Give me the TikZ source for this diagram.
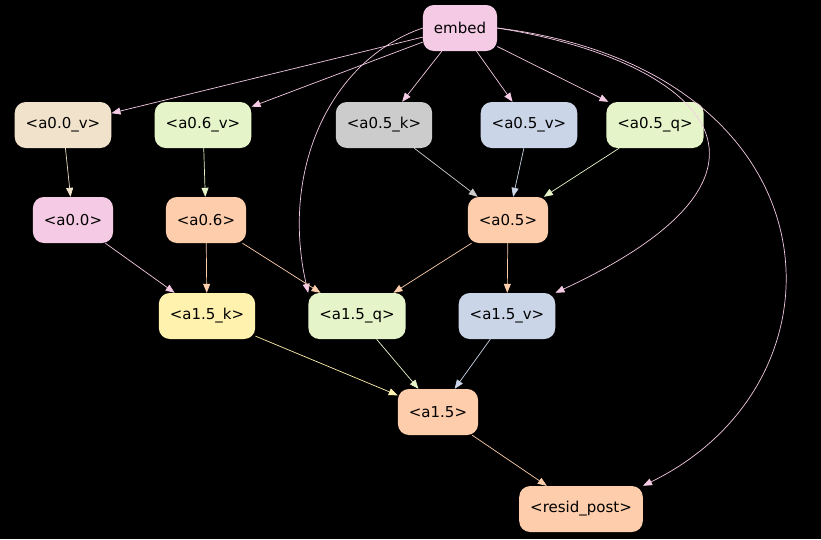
\documentclass[tikz,border=0pt]{standalone}
\usepackage{fontspec}
\setmainfont{DejaVu Sans}
\usetikzlibrary{arrows.meta}
\definecolor{cpink}{HTML}{F4CAE4}
\definecolor{cbeige}{HTML}{F1E2CC}
\definecolor{cgreen}{HTML}{E6F5C9}
\definecolor{cgray}{HTML}{CCCCCC}
\definecolor{cblue}{HTML}{CBD5E8}
\definecolor{corange}{HTML}{FDCDAC}
\definecolor{cyellow}{HTML}{FFF2AE}
\tikzset{
  box/.style={rounded corners=11pt, minimum height=46pt, inner xsep=11pt,
    font=\fontsize{15pt}{17pt}\selectfont, text=black},
  edge/.style={-{Triangle[length=9pt,width=7pt]}, line width=0.7pt}
}
\begin{document}
\begin{tikzpicture}[x=1pt,y=-1pt]
\fill[black] (0,0) rectangle (821,539);
\useasboundingbox (0,0) rectangle (821,539);
\node[box,fill=cpink] (embed) at (460,28) {embed};
\node[box,fill=cbeige] (a00v) at (63,125) {<a0.0\_v>};
\node[box,fill=cgreen] (a06v) at (203,125) {<a0.6\_v>};
\node[box,fill=cgray] (a05k) at (384,125) {<a0.5\_k>};
\node[box,fill=cblue] (a05v) at (529,125) {<a0.5\_v>};
\node[box,fill=cgreen] (a05q) at (655,125) {<a0.5\_q>};
\node[box,fill=cpink] (a00) at (73,220) {<a0.0>};
\node[box,fill=corange] (a06) at (206,220) {<a0.6>};
\node[box,fill=corange] (a05) at (508,220) {<a0.5>};
\node[box,fill=cyellow] (a15k) at (207,316) {<a1.5\_k>};
\node[box,fill=cgreen] (a15q) at (357,316) {<a1.5\_q>};
\node[box,fill=cblue] (a15v) at (507,316) {<a1.5\_v>};
\node[box,fill=corange] (a15) at (438,412) {<a1.5>};
\node[box,fill=corange] (resid) at (581,509) {<resid\_post>};
% edges from embed
\draw[edge,cpink] (embed) -- (a00v);
\draw[edge,cpink] (embed) -- (a06v);
\draw[edge,cpink] (embed) -- (a05k);
\draw[edge,cpink] (embed) -- (a05v);
\draw[edge,cpink] (embed) -- (a05q);
\draw[edge,cpink] (embed.west) .. controls (330,60) and (280,170) .. (a15q.north west);
\draw[edge,cpink] (embed.east) .. controls (700,60) and (820,170) .. (a15v.north east);
\draw[edge,cpink] (embed.east) .. controls (840,70) and (860,380) .. (resid.north east);
% layer edges
\draw[edge,cbeige] (a00v) -- (a00);
\draw[edge,cgreen] (a06v) -- (a06);
\draw[edge,cgray] (a05k) -- (a05);
\draw[edge,cblue] (a05v) -- (a05);
\draw[edge,cgreen] (a05q) -- (a05);
\draw[edge,cpink] (a00) -- (a15k);
\draw[edge,corange] (a06) -- (a15k);
\draw[edge,corange] (a06) -- (a15q);
\draw[edge,corange] (a05) -- (a15q);
\draw[edge,corange] (a05) -- (a15v);
\draw[edge,cyellow] (a15k) -- (a15);
\draw[edge,cgreen] (a15q) -- (a15);
\draw[edge,cblue] (a15v) -- (a15);
\draw[edge,corange] (a15) -- (resid);
\end{tikzpicture}
\end{document}
